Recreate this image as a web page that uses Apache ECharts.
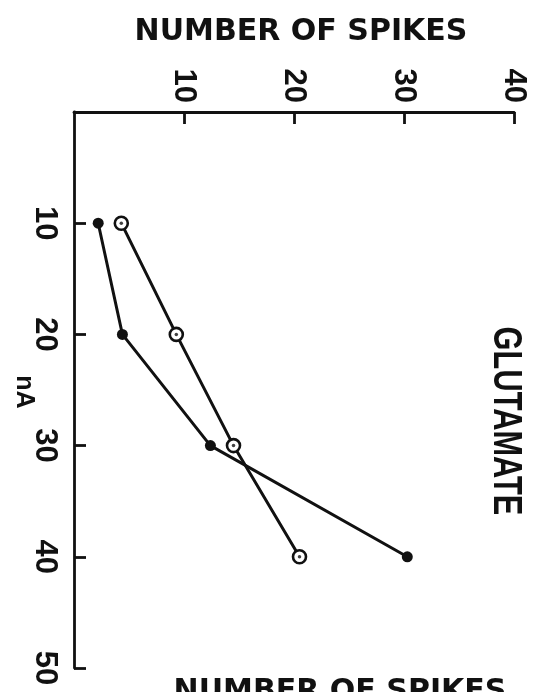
<!DOCTYPE html>
<html><head><meta charset="utf-8">
<script src="https://cdn.jsdelivr.net/npm/echarts@6/dist/echarts.min.js"></script>
<style>html,body{margin:0;padding:0;background:#fff}#c{width:540px;height:692px}</style>
</head><body><div id="c"></div>
<script>
const currentNA = [10, 20, 30, 40];
const spikesFilled = [2.2, 4.4, 12.4, 30.3];
const spikesOpen = [4.3, 9.3, 14.5, 20.5];
const spikeTicks = [0, 10, 20, 30, 40];
const nATicks = [0, 10, 20, 30, 40, 50];
const titleTop = 'NUMBER OF SPIKES';
const titleBottom = 'NUMBER OF SPIKES';
const drugLabel = 'GLUTAMATE';
const unitLabel = 'nA';

const ink = '#111';
const filledData = currentNA.map((a, i) => [spikesFilled[i], a]);
const openData = currentNA.map((a, i) => [spikesOpen[i], a]);

const chart = echarts.init(document.getElementById('c'), null, {renderer: 'canvas'});
chart.setOption({
  animation: false,
  backgroundColor: '#fff',
  grid: {left: 74, top: 112, right: 26, bottom: 24},
  xAxis: {
    type: 'value', position: 'top',
    min: spikeTicks[0], max: spikeTicks[spikeTicks.length - 1], interval: 10,
    axisLine: {show: true, lineStyle: {color: ink, width: 2.8}},
    axisTick: {show: true, inside: true, length: 12, lineStyle: {color: ink, width: 2.8}},
    splitLine: {show: false},
    axisLabel: {
      showMinLabel: false, rotate: -90, margin: 9,
      color: ink, fontFamily: 'Liberation Sans', fontWeight: 'bold', fontSize: 31
    }
  },
  yAxis: {
    type: 'value', inverse: true,
    min: nATicks[0], max: nATicks[nATicks.length - 1], interval: 10,
    axisLine: {show: true, lineStyle: {color: ink, width: 2.8}},
    axisTick: {show: true, inside: true, length: 12, lineStyle: {color: ink, width: 2.8}},
    splitLine: {show: false},
    axisLabel: {
      showMinLabel: false, rotate: -90, margin: 14,
      color: ink, fontFamily: 'Liberation Sans', fontWeight: 'bold', fontSize: 31
    }
  },
  series: [
    {
      type: 'line', data: filledData, symbol: 'circle', symbolSize: 11,
      lineStyle: {color: ink, width: 3}, itemStyle: {color: ink}, z: 3
    },
    {
      type: 'line', data: openData, symbol: 'circle', symbolSize: 13,
      lineStyle: {color: ink, width: 3}, itemStyle: {color: '#fff', borderColor: ink, borderWidth: 2.6}, z: 3
    },
    {
      type: 'scatter', data: openData, symbol: 'circle', symbolSize: 3.5,
      itemStyle: {color: ink}, z: 5
    }
  ],
  graphic: [
    {type: 'text', x: 301, y: 32, style: {text: titleTop, fill: ink, font: 'bold 30px "DejaVu Sans"', align: 'center', verticalAlign: 'middle'}},
    {type: 'text', x: 340, y: 692, style: {text: titleBottom, fill: ink, font: 'bold 30px "DejaVu Sans"', align: 'center', verticalAlign: 'middle'}},
    {type: 'text', x: 505, y: 421, rotation: -Math.PI / 2, scaleX: 0.77, style: {text: drugLabel, fill: ink, font: 'bold 40px "Liberation Sans"', align: 'center', verticalAlign: 'middle'}},
    {type: 'text', x: 24, y: 392, rotation: -Math.PI / 2, style: {text: unitLabel, fill: ink, font: 'bold 25px "Liberation Sans"', align: 'center', verticalAlign: 'middle'}}
  ]
});
</script></body></html>
